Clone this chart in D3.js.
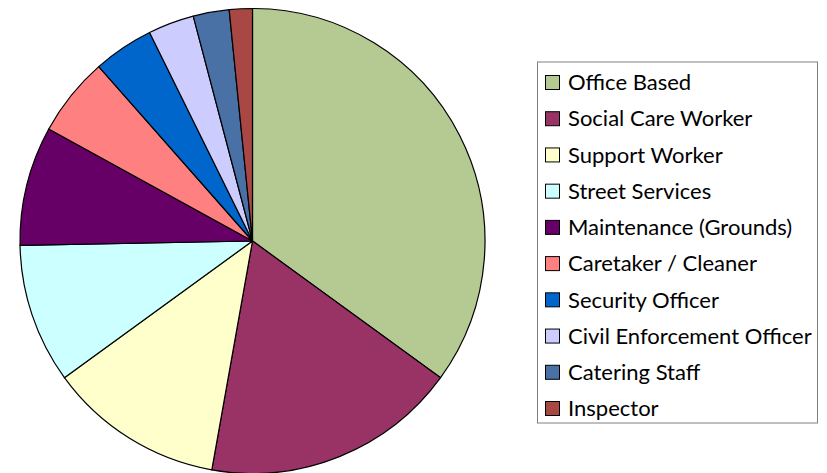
<!DOCTYPE html>
<html lang="en">
<head>
<meta charset="UTF-8">
<title>Staff groups pie</title>
<script src="https://cdn.jsdelivr.net/npm/d3@7"></script>
<style>
  body { margin: 0; background: #fff; }
  svg { display: block; }
</style>
</head>
<body>
<svg width="827" height="473"></svg>
<script>
// categories and shares (percent)
const categories = ["Office Based", "Social Care Worker", "Support Worker", "Street Services",
    "Maintenance (Grounds)", "Caretaker / Cleaner", "Security Officer",
    "Civil Enforcement Officer", "Catering Staff", "Inspector"];
const values = [35.0, 17.8, 12.2, 9.7, 8.3, 5.5, 4.2, 3.2, 2.5, 1.6];
const colors = ["#b5ca92", "#993366", "#ffffcc", "#ccffff", "#660066",
    "#ff8080", "#0066cc", "#ccccff", "#4a71a6", "#a94744"];

let svg = d3.select("svg")
let cx = 252.5, cy = 241, r = 232.5

let color = d3.scaleOrdinal().domain(categories).range(colors)

let data = categories.map((c, i) => ({name: c, value: values[i]}))

// keep the given order, clockwise from 12 o'clock
let pie = d3.pie().value(d => d.value).sort(null)
let arc = d3.arc().innerRadius(0).outerRadius(r)

svg.append("g")
    .attr("transform", `translate(${cx},${cy})`)
    .selectAll("path")
    .data(pie(data))
    .enter()
    .append("path")
    .attr("d", arc)
    .attr("fill", d => color(d.data.name))
    .attr("stroke", "#000")
    .attr("stroke-width", 1.2)
    .attr("stroke-linejoin", "round")

// legend
let lx = 537, ly = 61.5, lw = 280, lh = 361
let rowY = d3.scalePoint().domain(categories).range([82.5, 408.5])

let legend = svg.append("g")
legend.append("rect")
    .attr("x", lx + 0.5).attr("y", ly + 0.5)
    .attr("width", lw).attr("height", lh)
    .attr("fill", "#fff")
    .attr("stroke", "#808080")
    .attr("stroke-width", 1)

let rows = legend.selectAll(".row")
    .data(categories)
    .enter()
    .append("g")
    .attr("class", "row")
    .attr("transform", d => `translate(0,${rowY(d)})`)

rows.append("rect")
    .attr("x", 545.5).attr("y", -7)
    .attr("width", 14).attr("height", 14)
    .attr("fill", d => color(d))
    .attr("stroke", "#000")
    .attr("stroke-width", 1)

let labels = rows.append("text")
    .attr("x", 568)
    .attr("dy", "0.35em")
    .attr("font-family", "Lato, 'Open Sans', sans-serif")
    .attr("font-size", 19)
    .attr("fill", "#000")
    .text(d => d)

// fit the widest label to the width seen in the picture
let widest = d3.max(labels.nodes(), n => n.getComputedTextLength())
let fs = 19 * 244 / widest
labels.attr("font-size", fs)
</script>
</body>
</html>
